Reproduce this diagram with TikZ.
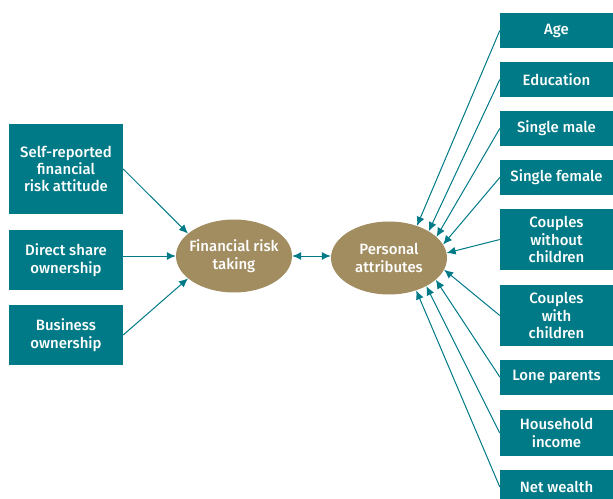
\documentclass[tikz,border=0pt]{standalone}
\usepackage{fontspec}
\setmainfont{Fira Sans}[BoldFont={Fira Sans Medium}]
\usetikzlibrary{arrows.meta, shapes.geometric}
\definecolor{boxteal}{RGB}{0,122,135}
\definecolor{hubgold}{RGB}{161,141,96}

\tikzset{
  factor/.style={fill=boxteal, text=white, minimum width=114bp,
    inner sep=0pt, align=center, font=\fontsize{15}{17.5}\selectfont\bfseries},
  hub/.style={ellipse, fill=hubgold, text=white, minimum width=116bp,
    minimum height=73bp, inner xsep=-5bp, inner ysep=0pt, align=center,
    font=\fontsize{15}{17.5}\selectfont\bfseries},
  link/.style={draw=boxteal, line width=1bp, -{Latex[length=9bp,width=8bp]}}
}

\begin{document}
\begin{tikzpicture}[x=1bp, y=-1bp]
  \useasboundingbox (0,0) rectangle (613,499);

  % the two hubs
  \node [hub] (risk) at (234,256) {Financial risk\\taking};
  \node [hub] (attr) at (389,258) {Personal\\attributes};
  \draw [link, {Latex[length=9bp,width=8bp]}-{Latex[length=9bp,width=8bp]}] (risk.east) -- (attr.west |- risk.east);

  % measures of risk taking
  \node [factor, minimum height=90bp] (selfrisk) at (66,169) {Self-reported\\financial\\risk attitude};
  \node [factor, minimum height=60bp] (shares) at (66,260) {Direct share\\ownership};
  \node [factor, minimum height=60bp] (business) at (66,335) {Business\\ownership};
  \draw [link] (selfrisk.east) -- (risk.154);
  \draw [link] (shares.east |- risk.west) -- (risk.west);
  \draw [link] (business.east) -- (risk.206);

  % personal attributes
  \foreach \name/\y/\h/\txt/\ang in {
      age/30.5/35/{Age}/49,
      edu/79.5/35/{Education}/34,
      smale/128.5/35/{Single male}/24,
      sfemale/177.5/35/{Single female}/14,
      cnokids/239.5/61/{Couples\\without\\children}/5,
      ckids/315.5/61/{Couples\\with\\children}/-12,
      lone/377/35/{Lone parents}/-25,
      income/433/46/{Household\\income}/-37,
      wealth/487/35/{Net wealth}/-50}{
    \node [factor, minimum width=113bp, minimum height=\h bp] (\name) at (556.5,\y) {\txt};
    \draw [link] (\name.west) -- (attr.\ang);
  };
\end{tikzpicture}
\end{document}
